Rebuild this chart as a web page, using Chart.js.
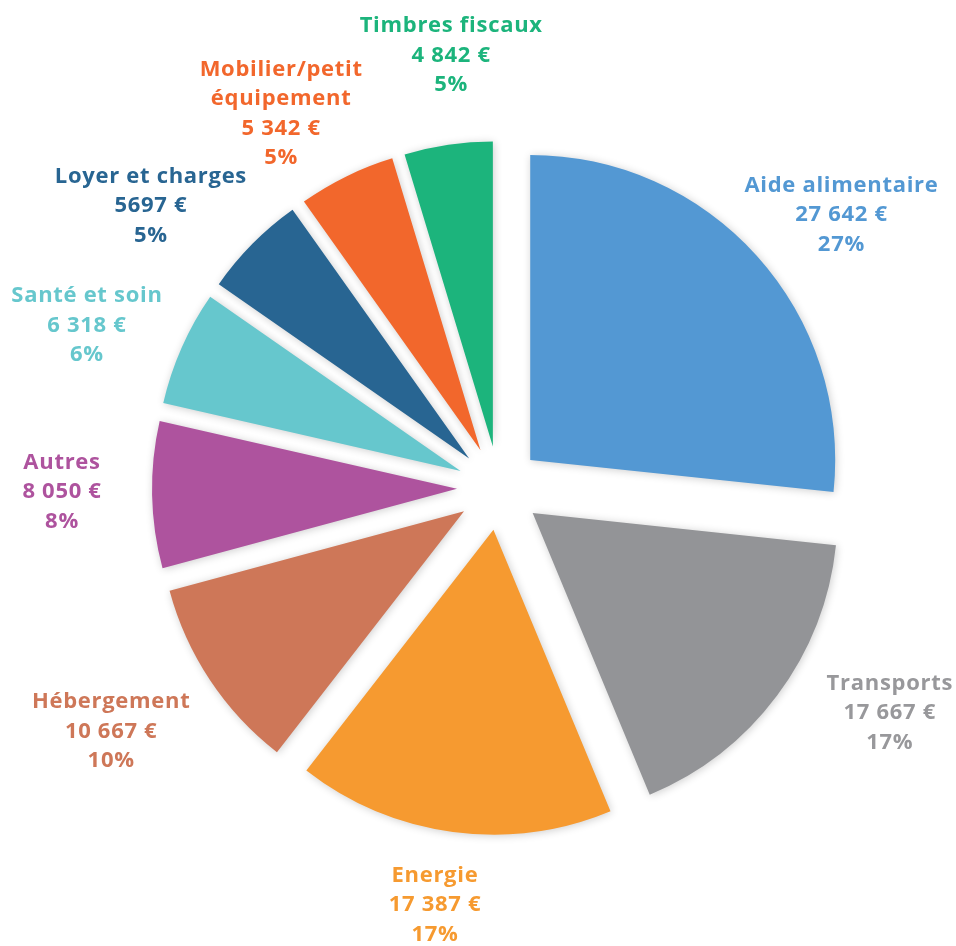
<!DOCTYPE html>
<html lang="fr">
<head>
<meta charset="utf-8">
<title>Répartition des aides</title>
<script src="https://cdn.jsdelivr.net/npm/chart.js@4/dist/chart.umd.min.js"></script>
<style>
    html, body { margin: 0; padding: 0; background: #fff; }
    #wrap { width: 956px; height: 946px; position: relative; }
</style>
</head>
<body>
<div id="wrap"><canvas id="pieChart"></canvas></div>
<script>
// données
const categories = [
    'Aide alimentaire', 'Transports', 'Energie', 'Hébergement', 'Autres',
    'Santé et soin', 'Loyer et charges', ['Mobilier/petit', 'équipement'], 'Timbres fiscaux'
];
const amounts = [27642, 17667, 17387, 10667, 8050, 6318, 5697, 5342, 4842];
const amountLabels = ['27 642 €', '17 667 €', '17 387 €', '10 667 €', '8 050 €', '6 318 €', '5697 €', '5 342 €', '4 842 €'];
const percentLabels = ['27%', '17%', '17%', '10%', '8%', '6%', '5%', '5%', '5%'];

const sliceColors = ['#5398d3', '#939497', '#f69a30', '#ce7758', '#ae539e', '#66c7cd', '#286592', '#f2672c', '#1cb47c'];
const textColors  = ['#5398d3', '#98989b', '#f69a30', '#ce7758', '#ae539e', '#66c7cd', '#286592', '#f2672c', '#1cb47c'];

// écartement des parts (px) et placement des étiquettes
const explode = 42;
const labelDist = [438, 451, 422, 458, 437, 443, 448, 433, 435];
const labelTurn = [3.4, -6.8, 1.1, 1.5, 0.6, -2.3, -5.7, -4.1, 2.1];

// chart.js divise "offset" par 4 et agrandit les petites parts,
// donc on décale chaque part nous-mêmes
const explodePlugin = {
    id: 'explodeSlices',
    beforeDatasetsDraw(chart) {
        const ctx = chart.ctx;
        chart.getDatasetMeta(0).data.forEach(arc => {
            if (arc._exploded) return;
            const orig = arc.draw.bind(arc);
            arc.draw = function (c) {
                const half = (this.startAngle + this.endAngle) / 2;
                c.save();
                c.translate(Math.cos(half) * explode, Math.sin(half) * explode);
                orig(c);
                c.restore();
            };
            arc._exploded = true;
        });
        ctx.save();
        ctx.shadowColor = 'rgba(0,0,0,0.2)';
        ctx.shadowBlur = 9;
        ctx.shadowOffsetX = 1;
        ctx.shadowOffsetY = 1;
    },
    afterDatasetsDraw(chart) {
        chart.ctx.restore();
    }
};

const labelPlugin = {
    id: 'outerLabels',
    afterDraw(chart) {
        const ctx = chart.ctx;
        const meta = chart.getDatasetMeta(0);
        ctx.save();
        ctx.font = 'bold 22px "Open Sans", Lato, sans-serif';
        ctx.letterSpacing = '0.7px';
        ctx.textAlign = 'center';
        ctx.textBaseline = 'middle';
        meta.data.forEach((arc, i) => {
            const mid = (arc.startAngle + arc.endAngle) / 2 + labelTurn[i] * Math.PI / 180;
            const cx = arc.x + Math.cos(mid) * labelDist[i];
            const cy = arc.y + Math.sin(mid) * labelDist[i];
            const name = Array.isArray(categories[i]) ? categories[i] : [categories[i]];
            const lines = [...name, amountLabels[i], percentLabels[i]];
            const lh = 29.5;
            const top = cy - (lines.length - 1) * lh / 2;
            ctx.fillStyle = textColors[i];
            lines.forEach((t, k) => ctx.fillText(t, cx, top + k * lh));
        });
        ctx.restore();
    }
};

new Chart(document.getElementById('pieChart'), {
    type: 'pie',
    data: {
        labels: categories,
        datasets: [{
            data: amounts,
            backgroundColor: sliceColors,
            borderWidth: 0
        }]
    },
    options: {
        responsive: true,
        maintainAspectRatio: false,
        animation: false,
        radius: 305,
        layout: { padding: { left: 42, top: 30, right: 0, bottom: 0 } },
        plugins: {
            legend: { display: false },
            tooltip: { enabled: false }
        },
        events: []
    },
    plugins: [explodePlugin, labelPlugin]
});
</script>
</body>
</html>
